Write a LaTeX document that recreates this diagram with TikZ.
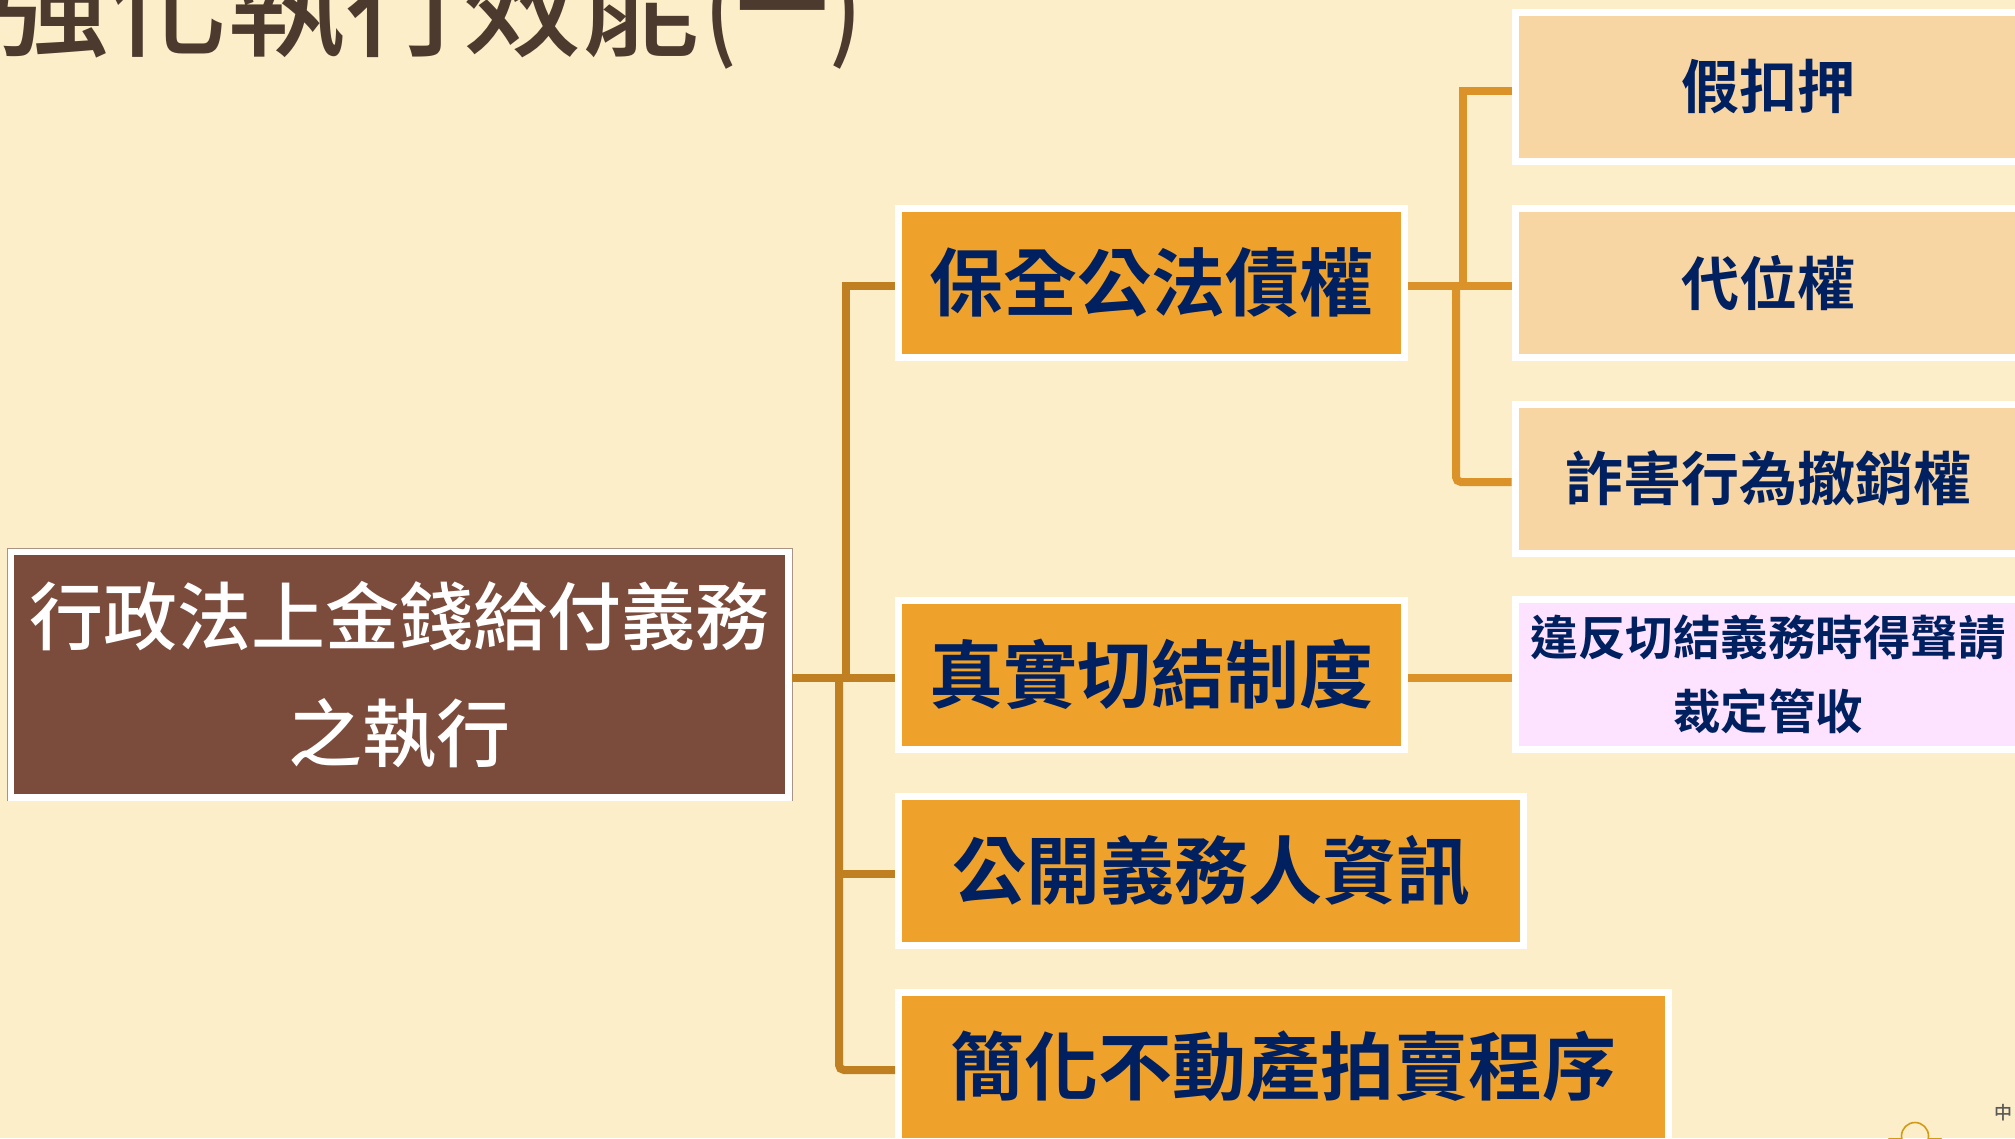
\documentclass[tikz,border=0pt]{standalone}
\usepackage{fontspec}
\usepackage{graphicx}
\setmainfont{Noto Sans CJK TC Medium}[BoldFont={Noto Sans CJK TC Bold}]
\usetikzlibrary{calc}
\definecolor{pagebg}{HTML}{FCEEC9}
\definecolor{midfill}{HTML}{EFA22B}
\definecolor{sidefill}{HTML}{F7D6A3}
\definecolor{pinkfill}{HTML}{FDE3FF}
\definecolor{rootfill}{HTML}{7B4B3C}
\definecolor{navytext}{HTML}{002060}
\definecolor{connleft}{HTML}{C08022}
\definecolor{connright}{HTML}{DA9229}
\definecolor{titletext}{HTML}{4C3A2E}
\definecolor{flowerline}{HTML}{D29B16}
\definecolor{rootedge}{HTML}{A89484}
\tikzset{
  boxbase/.style={rectangle,draw=white,line width=7pt,inner sep=0pt,align=center,text=navytext},
  rootbox/.style={boxbase,fill=rootfill,text=white,minimum width=778pt,minimum height=246pt,
    font=\fontsize{74}{117}\selectfont},
  midbox/.style={boxbase,fill=midfill,minimum height=149pt,font=\fontsize{74}{90}\selectfont\bfseries},
  sidebox/.style={boxbase,fill=sidefill,minimum width=506pt,minimum height=149pt,font=\fontsize{58}{70}\selectfont\bfseries},
  pinkbox/.style={boxbase,fill=pinkfill,minimum width=506pt,minimum height=150pt,font=\fontsize{47.5}{74}\selectfont\bfseries},
  connl/.style={draw=connleft,line width=8pt},
  connr/.style={draw=connright,line width=8pt},
}
\begin{document}
\begin{tikzpicture}[x=1pt,y=-1pt]
\useasboundingbox (0,0) rectangle (2015,1138);
\clip (0,0) rectangle (2015,1138);
\fill[pagebg] (0,0) rectangle (2015,1138);
% title
\node[anchor=base west,inner sep=0pt,text=titletext,font=\fontsize{118}{118}\selectfont] (title) at (-9,47) {強化執行效能\hspace{5pt}\scalebox{0.78}[0.93]{(一)}};
% boxes
\node[rootbox] (root) at (399.5,674.5) {行政法上金錢給付義務\\之執行};
\node[midbox,minimum width=506pt] (m1) at (1151.5,282.5) {保全公法債權};
\node[midbox,minimum width=506pt] (m2) at (1151.5,674.5) {真實切結制度};
\node[midbox,minimum width=625pt] (m3) at (1211,870.5) {公開義務人資訊};
\node[midbox,minimum width=770pt] (m4) at (1283.5,1066.5) {簡化不動產拍賣程序};
\node[sidebox] (s1) at (1768,87) {假扣押};
\node[sidebox] (s2) at (1768,283) {代位權};
\node[sidebox] (s3) at (1768,478.5) {詐害行為撤銷權};
\node[pinkbox] (s4) at (1768,674.5) {違反切結義務時得聲請\\裁定管收};
\draw[rootedge,line width=1pt] (root.south west) -- (root.north west) -- (root.north east) -- (root.south east);
% connectors
\draw[connl] ([yshift=-3.5pt]root.east) -- ([yshift=-3.5pt]m2.west);
\draw[connl] (846,678) |- ([yshift=-3.5pt]m1.west);
\draw[connl,rounded corners=5pt] (839,678) |- ([yshift=-3.5pt]m4.west);
\draw[connl] (839,874) -- ([yshift=-3.5pt]m3.west);
\draw[connr] ([yshift=-3.5pt]m1.east) -- ([yshift=-3pt]s2.west);
\draw[connr] (1463,286) |- ([yshift=-3.5pt]s1.west);
\draw[connr,rounded corners=5pt] (1456,286) |- ([yshift=-3.5pt]s3.west);
\draw[connr] ([yshift=-3.5pt]m2.east) -- ([yshift=-3.5pt]s4.west);
% corner mark
\node[anchor=center,inner sep=0pt,text=black!65,font=\fontsize{18}{18}\selectfont] (zhong) at (2003,1113) {中};
\draw[flowerline,line width=1.6pt] (1915,1136) circle (13.5);
\fill[flowerline] (1888,1138) arc (180:0:7 and 2) (1928,1138) arc (180:0:7 and 2);
\end{tikzpicture}
\end{document}
